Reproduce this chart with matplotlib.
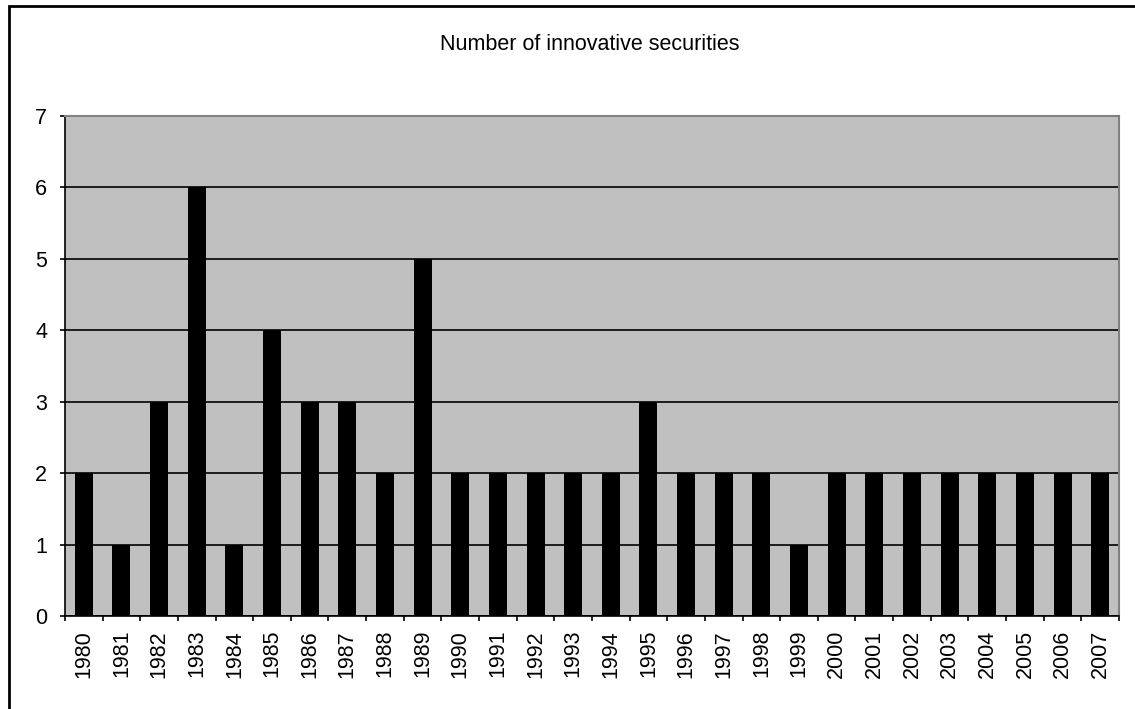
import numpy as np
import matplotlib.pyplot as plt
from matplotlib.patches import Rectangle

years = [str(y) for y in range(1980, 2008)]
counts = [2, 1, 3, 6, 1, 4, 3, 3, 2, 5, 2, 2, 2, 2, 2, 3, 2, 2, 2, 1,
          2, 2, 2, 2, 2, 2, 2, 2]
title = "Number of innovative securities"

plt.rcParams['font.family'] = ['Liberation Sans', 'DejaVu Sans']

fig = plt.figure(figsize=(11.35, 7.09), dpi=100)
# plot area in pixel terms: x 65..1119, y 116..616
ax = fig.add_axes([65 / 1135, 1 - 616 / 709, (1119 - 65) / 1135, (616 - 116) / 709])
ax.set_facecolor('#c0c0c0')

x = np.arange(len(years))
ax.bar(x, counts, width=0.48, color='black', zorder=3)

ax.set_xlim(-0.5, len(years) - 0.5)
ax.set_ylim(0, 7)
ax.set_yticks(range(0, 8))
ax.tick_params(axis='y', labelsize=15.5, length=3.8, width=1.2, direction='out', pad=9)
ax.yaxis.grid(True, color='black', linewidth=1.2, zorder=1)
ax.set_axisbelow(True)

# category labels centered under bars, ticks on the boundaries
ax.set_xticks(x)
ax.set_xticklabels(years, rotation=90, fontsize=15.5)
ax.tick_params(axis='x', length=0, pad=10)
ax.set_xticks(np.arange(len(years) + 1) - 0.5, minor=True)
ax.tick_params(axis='x', which='minor', length=3.8, width=1.2, direction='out')

for side in ('top', 'right'):
    ax.spines[side].set_color('#808080')
    ax.spines[side].set_linewidth(1.5)
for side in ('left', 'bottom'):
    ax.spines[side].set_color('black')
    ax.spines[side].set_linewidth(1.2)

fig.text(590 / 1135, 1 - 45 / 709, title, ha='center', va='center', fontsize=15.5)

# outer chart border
fig.patches.append(Rectangle((9 / 1135, -0.05), 1.1, 1 - 6 / 709 + 0.05,
                             transform=fig.transFigure, fill=False,
                             edgecolor='black', linewidth=2))

fig.savefig('out.png', dpi=100)
